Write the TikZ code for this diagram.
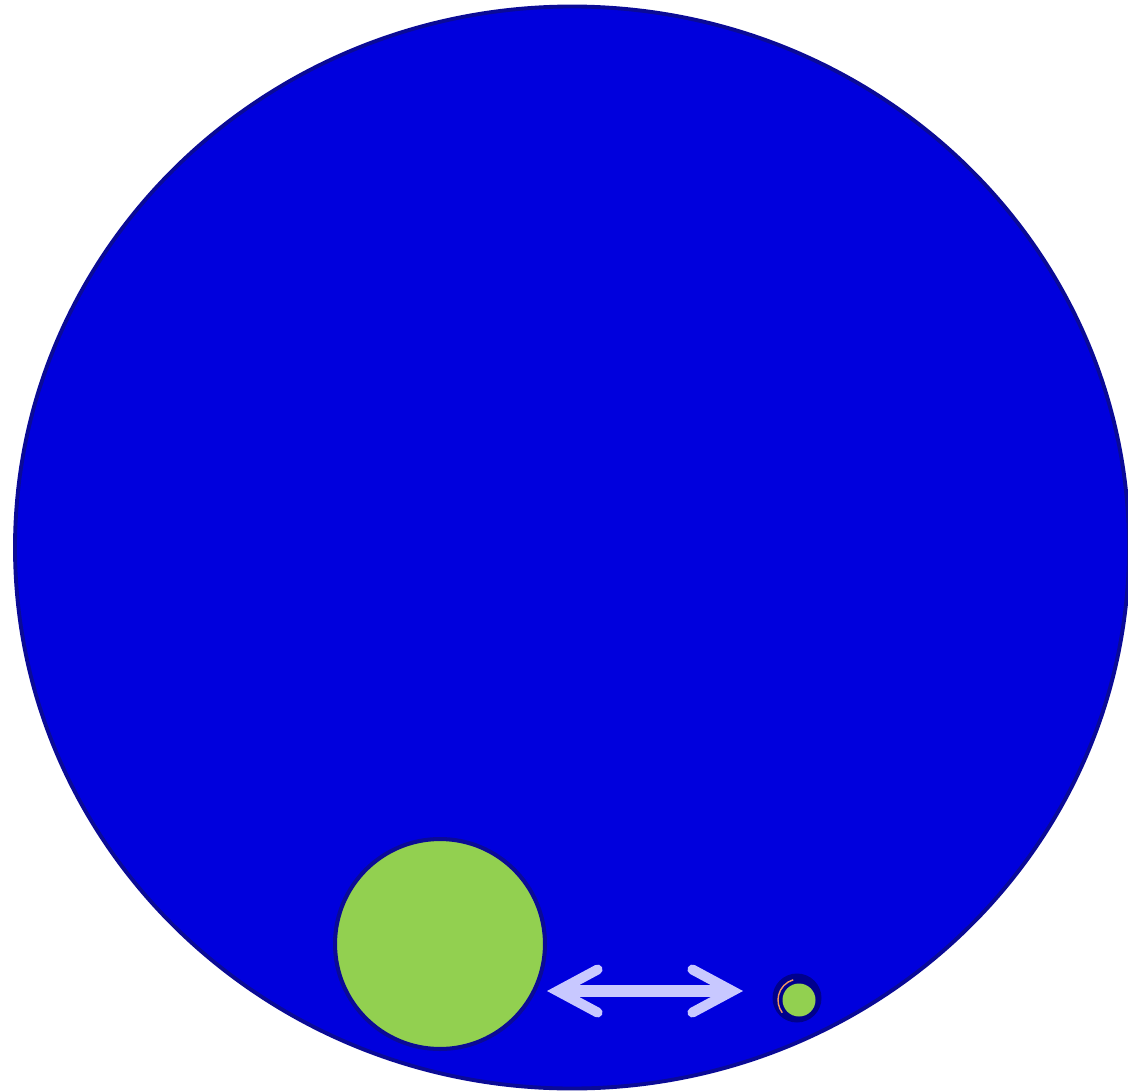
\documentclass[tikz,border=0pt]{standalone}
\usepackage{tikz}
\usetikzlibrary{arrows.meta,positioning}
\definecolor{deepblue}{RGB}{0,0,221}
\definecolor{rimblue}{RGB}{10,10,150}
\definecolor{navydot}{RGB}{0,0,140}
\definecolor{leafgreen}{RGB}{146,208,80}
\definecolor{lilac}{RGB}{200,200,255}
\definecolor{peach}{RGB}{240,150,100}

\begin{document}
\begin{tikzpicture}[
    x=0.02cm, y=0.02cm,
    disc/.style={circle, draw=rimblue, line width=2.3pt, fill=leafgreen, inner sep=0pt},
    ring/.style={circle, fill=navydot, inner sep=0pt, minimum size=0.98cm},
    barb/.tip={Straight Barb[length=0.8cm, width=0.86cm, line width=5.7pt, line cap=round, line join=miter]},
    arrow/.style={barb-barb, lilac, line width=6.8pt}
]
\useasboundingbox (0,0) rectangle (1128,-1091);
\clip (0,0) rectangle (1128,-1091);
\draw[draw=rimblue, fill=deepblue, line width=2.2pt] (572,-547.5) ellipse [x radius=557, y radius=541];

\node[disc, minimum size=4.2cm] (big) at (440,-944) {};
\node[ring] (dot) at (797,-998) {};
\node[disc, draw=none, minimum size=0.66cm] (core) at (799,-1000) {};
\draw[peach, line width=0.8pt] (core.center) ++(106:21) arc[start angle=106, end angle=217, radius=21];

\coordinate (tipl) at (547,-991);
\coordinate (tipr) at (743,-991);
\draw[arrow] (tipl) -- (tipr);
\end{tikzpicture}
\end{document}
